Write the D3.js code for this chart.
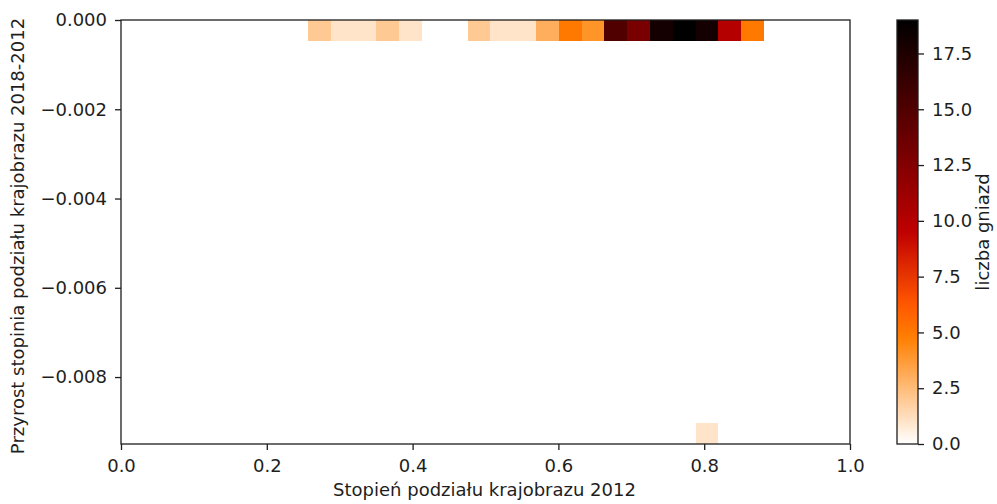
<!DOCTYPE html>
<html>
<head>
<meta charset="utf-8">
<script src="https://cdn.jsdelivr.net/npm/d3@7"></script>
<style>
  html, body { margin: 0; padding: 0; background: #fff; }
  svg text { font-family: "DejaVu Sans", sans-serif; fill: #1e1e1e; }
</style>
</head>
<body>
<svg id="chart" width="997" height="504"></svg>
<script>
// 2D histogram: landscape division degree (2012) vs. its change 2018-2012
const xBinRange = [0.2565, 0.882];     // histogram extent along x
const yBinRange = [-0.0095, 0.0];      // histogram extent along y
const binCount = 20;                   // bins per axis

// counts in the top row of bins (y bin 19), left to right
const topRowCounts = [2, 1, 1, 2, 1, 0, 0, 2, 1, 1, 3, 5, 4, 15, 13, 18, 19, 18, 10, 5];
// the single populated bin in the bottom row (y bin 0)
const bottomCells = [{ xi: 17, count: 1 }];

const xTicks = [0.0, 0.2, 0.4, 0.6, 0.8, 1.0];
const yTicks = [0.000, -0.002, -0.004, -0.006, -0.008];
const cbarTicks = [0.0, 2.5, 5.0, 7.5, 10.0, 12.5, 15.0, 17.5];
const countRange = [0, 19];

const xTitle = "Stopień podziału krajobrazu 2012";
const yTitle = "Przyrost stopinia podziału krajobrazu 2018-2012";
const cbarTitle = "liczba gniazd";

const margin = { left: 121, right: 850, top: 20, bottom: 444 };
const svg = d3.select("#chart");
const ink = "#1e1e1e";

const x = d3.scaleLinear().domain([0, 1]).range([margin.left, margin.right]);
const y = d3.scaleLinear().domain(yBinRange).range([margin.bottom, margin.top]);

// gist_heat reversed colormap
function heatR(v) {
  const t = 1 - (v - countRange[0]) / (countRange[1] - countRange[0]);
  const c = a => Math.max(0, Math.min(1, a));
  const r = c(1.5 * t), g = c(2 * t - 1), b = c(4 * t - 3);
  return d3.rgb(r * 255, g * 255, b * 255).formatHex();
}

const bw = (xBinRange[1] - xBinRange[0]) / binCount;
const bh = (yBinRange[1] - yBinRange[0]) / binCount;

const cells = [];
topRowCounts.forEach((c, i) => { if (c > 0) cells.push({ xi: i, yi: binCount - 1, count: c }); });
bottomCells.forEach(d => cells.push({ xi: d.xi, yi: 0, count: d.count }));

svg.append("g").selectAll("rect").data(cells).join("rect")
  .attr("x", d => x(xBinRange[0] + d.xi * bw))
  .attr("y", d => y(yBinRange[0] + (d.yi + 1) * bh))
  .attr("width", d => x(xBinRange[0] + (d.xi + 1) * bw) - x(xBinRange[0] + d.xi * bw))
  .attr("height", d => y(yBinRange[0] + d.yi * bh) - y(yBinRange[0] + (d.yi + 1) * bh))
  .attr("fill", d => heatR(d.count))
  .attr("shape-rendering", "crispEdges");

// frame
svg.append("rect")
  .attr("x", margin.left).attr("y", margin.top)
  .attr("width", margin.right - margin.left).attr("height", margin.bottom - margin.top)
  .attr("fill", "none").attr("stroke", ink).attr("stroke-width", 1.3);

const fs = 18;
const xAxis = svg.append("g").attr("transform", `translate(0,${margin.bottom})`)
  .call(d3.axisBottom(x).tickValues(xTicks).tickFormat(d3.format(".1f")).tickSizeOuter(0).tickSize(6).tickPadding(9));
const yAxis = svg.append("g").attr("transform", `translate(${margin.left},0)`)
  .call(d3.axisLeft(y).tickValues(yTicks).tickFormat(d => d3.format(".3f")(d).replace("-", "\u2212")).tickSizeOuter(0).tickSize(6).tickPadding(8));
[xAxis, yAxis].forEach(g => {
  g.select(".domain").remove();
  g.selectAll("line").attr("stroke", ink).attr("stroke-width", 1.3);
  g.selectAll("text").attr("font-size", fs).attr("font-family", "DejaVu Sans").attr("fill", ink);
});

svg.append("text").attr("x", (margin.left + margin.right) / 2 - 1).attr("y", 496)
  .attr("text-anchor", "middle").attr("font-size", fs).text(xTitle);
svg.append("text").attr("transform", `translate(24,${(margin.top + margin.bottom) / 2 + 4}) rotate(-90)`)
  .attr("text-anchor", "middle").attr("font-size", fs).text(yTitle);

// colorbar
const cb = { x0: 897, x1: 918 };
const cy = d3.scaleLinear().domain(countRange).range([margin.bottom, margin.top]);
const defs = svg.append("defs");
const grad = defs.append("linearGradient").attr("id", "cbgrad")
  .attr("x1", 0).attr("y1", 1).attr("x2", 0).attr("y2", 0);
d3.range(0, 1.0001, 0.02).forEach(t => {
  grad.append("stop").attr("offset", t)
    .attr("stop-color", heatR(countRange[0] + t * (countRange[1] - countRange[0])));
});
svg.append("rect").attr("x", cb.x0).attr("y", margin.top)
  .attr("width", cb.x1 - cb.x0).attr("height", margin.bottom - margin.top)
  .attr("fill", "url(#cbgrad)").attr("stroke", ink).attr("stroke-width", 1.3);
const cAxis = svg.append("g").attr("transform", `translate(${cb.x1},0)`)
  .call(d3.axisRight(cy).tickValues(cbarTicks).tickFormat(d3.format(".1f")).tickSizeOuter(0).tickSize(6).tickPadding(8));
cAxis.select(".domain").remove();
cAxis.selectAll("line").attr("stroke", ink).attr("stroke-width", 1.3);
cAxis.selectAll("text").attr("font-size", fs).attr("font-family", "DejaVu Sans").attr("fill", ink);
svg.append("text").attr("transform", `translate(989,${(margin.top + margin.bottom) / 2}) rotate(-90)`)
  .attr("text-anchor", "middle").attr("font-size", fs).text(cbarTitle);
</script>
</body>
</html>
